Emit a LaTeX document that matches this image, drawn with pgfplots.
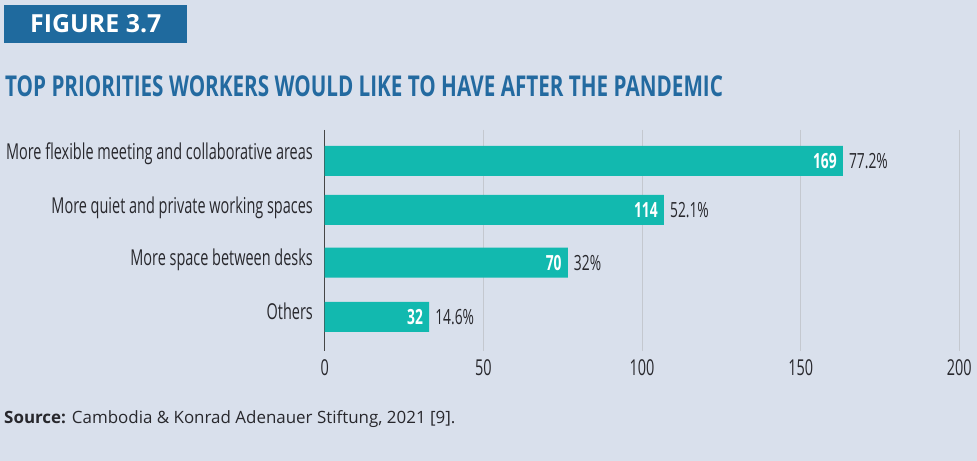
\documentclass[border=0pt]{standalone}
\usepackage{fontspec}
\usepackage{pgfplots}
\pgfplotsset{compat=1.18}
\usepackage{pgfplotstable}
\setmainfont{Open Sans}
\newfontfamily\condfont[FakeStretch=0.66]{Open Sans}
\newfontfamily\titlefont[FakeStretch=0.72]{Open Sans}

\definecolor{bgCol}{RGB}{217,224,236}
\definecolor{figBlue}{RGB}{31,106,158}
\definecolor{titleBlue}{RGB}{35,106,160}
\definecolor{barTeal}{RGB}{18,185,175}
\definecolor{gridGray}{RGB}{196,200,207}
\definecolor{axisDark}{RGB}{70,70,70}
\definecolor{textDark}{RGB}{40,40,45}

% y = bar centre in picture rows, len = drawn bar length
\pgfplotstableread{
y len count pct
161 163.3 169 77.2\%
210 106.9 114 52.1\%
262.7 76.6 70 32\%
317 32.9 32 14.6\%
}\prioritydata

\begin{document}
\begin{tikzpicture}[x=1bp,y=1bp]
\useasboundingbox (0,0) rectangle (977,461);
\fill[bgCol] (0,0) rectangle (977,461);
\fill[figBlue] (4,418) rectangle (187,456);
\node[anchor=base west, inner sep=0pt, text=white,
  font=\fontsize{25}{25}\selectfont\bfseries] at (30,428) {FIGURE 3.7};
\node[anchor=base west, inner sep=0pt, text=titleBlue,
  font=\titlefont\fontsize{28.8}{28.8}\selectfont\bfseries] at (5,364)
  {TOP PRIORITIES WORKERS WOULD LIKE TO HAVE AFTER THE PANDEMIC};
\node[anchor=base west, inner sep=0pt, text=textDark,
  font=\fontsize{17}{17}\selectfont] at (4,37)
  {\textbf{Source:} Cambodia \& Konrad Adenauer Stiftung, 2021 [9].};

\begin{axis}[
    at={(324.7bp,110bp)}, anchor=south west,
    scale only axis,
    width=634.6bp, height=221bp,
    xmin=0, xmax=200,
    ymin=130, ymax=351,
    y dir=reverse,
    axis line style={draw=none},
    major tick length=0pt,
    /pgf/number format/assume math mode=true,
    xtick={0,50,100,150,200},
    xmajorgrids,
    grid style={gridGray, line width=0.8bp},
    extra x ticks={0},
    extra x tick labels={},
    extra x tick style={grid style={axisDark, line width=1.3bp}},
    xticklabel shift=8bp,
    xticklabel style={anchor=north, inner sep=0pt, text=textDark,
      font=\condfont\fontsize{22}{22}\selectfont},
    ytick={157.3,210.6,263.3,317.3},
    yticklabels={More flexible meeting and collaborative areas,
      More quiet and private working spaces,
      More space between desks, Others},
    yticklabel shift=11.7bp,
    yticklabel style={anchor=mid east, inner sep=0pt, text=textDark,
      font=\condfont\fontsize{22}{22}\selectfont},
  ]
  \addplot[xbar, bar width=30, bar shift=0pt, fill=barTeal, draw=none,
    nodes near coords, point meta=explicit,
    nodes near coords style={anchor=east, xshift=-6bp, inner sep=0pt,
      text=white, font=\condfont\fontsize{21}{21}\selectfont\bfseries}]
    table[x=len, y=y, meta=count] {\prioritydata};
  \addplot[xbar, bar width=30, bar shift=0pt, fill=none, draw=none,
    nodes near coords, point meta=explicit symbolic,
    nodes near coords style={anchor=west, xshift=6bp, inner sep=0pt,
      text=textDark, font=\condfont\fontsize{21}{21}\selectfont}]
    table[x=len, y=y, meta=pct] {\prioritydata};
\end{axis}
\end{tikzpicture}
\end{document}
